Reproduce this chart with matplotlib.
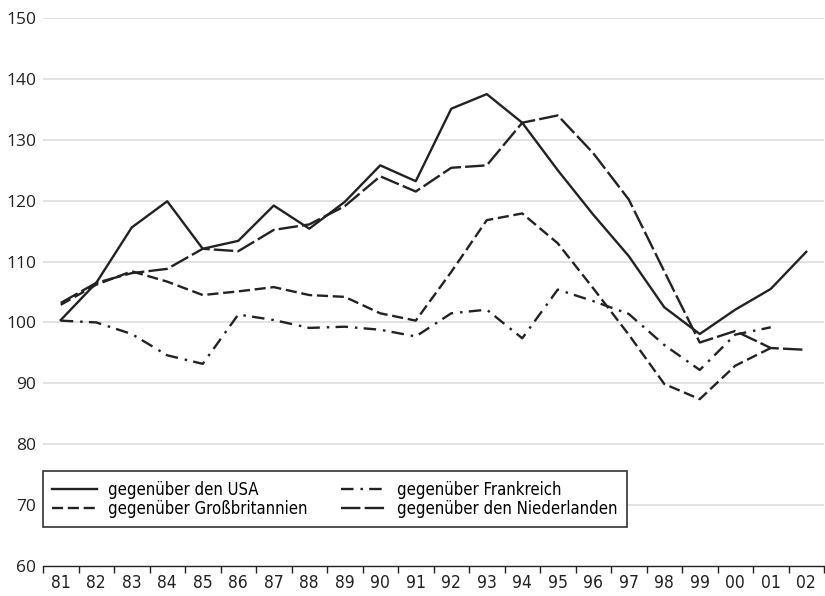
import numpy as np
import matplotlib
matplotlib.use("Agg")
import matplotlib.pyplot as plt
from matplotlib import font_manager

# Jahre 1981-2002
years = ["81", "82", "83", "84", "85", "86", "87", "88", "89", "90", "91",
         "92", "93", "94", "95", "96", "97", "98", "99", "00", "01", "02"]

usa = [100.4, 106.5, 115.6, 119.9, 112.1, 113.4, 119.2, 115.4, 119.8, 125.8, 123.2,
       135.1, 137.5, 132.8, 125.0, 117.7, 110.9, 102.5, 98.1, 102.1, 105.5, 111.6]
frankreich = [100.3, 100.0, 98.1, 94.6, 93.2, 101.3, 100.4, 99.1, 99.3, 98.8, 97.7,
              101.5, 102.1, 97.4, 105.4, 103.5, 101.4, 96.3, 92.2, 98.0, 99.2]
grossbritannien = [102.9, 106.2, 108.4, 106.7, 104.5, 105.1, 105.8, 104.5, 104.2, 101.5, 100.3,
                   108.3, 116.8, 117.9, 113.0, 105.6, 98.0, 89.9, 87.4, 92.9, 95.8]
niederlande = [103.2, 106.5, 108.1, 108.8, 112.1, 111.7, 115.2, 116.1, 119.1, 124.0, 121.5,
               125.4, 125.8, 132.8, 134.0, 127.8, 120.2, 108.4, 96.7, 98.6, 95.8, 95.5]

yticks = [60, 70, 80, 90, 100, 110, 120, 130, 140, 150]

plt.rcParams['lines.scale_dashes'] = False
narrow = font_manager.FontProperties(family='DejaVu Sans', stretch='condensed', size=12.5)
legfont = font_manager.FontProperties(family='DejaVu Sans', stretch='condensed', size=12)

fig = plt.figure(figsize=(8.25, 5.96), dpi=100)
ax = fig.add_axes([43 / 825, 30 / 596, 781 / 825, 548 / 596])

x = np.arange(len(years))
lw = 1.7
ink = '#222222'
ax.plot(x[:len(usa)], usa, color=ink, lw=lw, ls='-',
        label='gegenüber den USA')
ax.plot(x[:len(grossbritannien)], grossbritannien, color=ink, lw=lw,
        ls=(0, (8, 3.4)), label='gegenüber Großbritannien')
ax.plot(x[:len(frankreich)], frankreich, color=ink, lw=lw,
        ls=(0, (9, 5, 1.8, 4.5)), label='gegenüber Frankreich')
ax.plot(x[:len(niederlande)], niederlande, color=ink, lw=lw,
        ls=(0, (14, 3)), label='gegenüber den Niederlanden')

ax.set_xlim(-0.5, len(years) - 0.5)
ax.set_ylim(60, 150)

for v in yticks[1:]:
    ax.axhline(v, color='#dadada', lw=1.1, zorder=0)

ax.set_yticks(yticks)
ax.set_yticklabels([str(v) for v in yticks], fontsize=12.5, family='Open Sans', color=ink)
ax.tick_params(axis='y', length=0, pad=5)

ax.set_xticks(np.arange(len(years) + 1) - 0.5)
ax.set_xticklabels([])
ax.set_xticks(x, minor=True)
ax.set_xticklabels(years, minor=True, fontproperties=narrow, color=ink)
ax.tick_params(axis='x', which='major', direction='out', length=5, width=1, color=ink)
ax.tick_params(axis='x', which='minor', length=0, pad=6)

for s in ['left', 'right', 'top']:
    ax.spines[s].set_visible(False)
ax.spines['bottom'].set_color(ink)
ax.spines['bottom'].set_linewidth(1)

handles, labels = ax.get_legend_handles_labels()
leg = ax.legend(handles, labels,
                ncol=2, loc='lower left', bbox_to_anchor=(0, 0.071),
                frameon=True, fancybox=False, framealpha=1, edgecolor='#333333',
                prop=legfont, handlelength=2.7,
                handletextpad=0.66, columnspacing=2.0, borderpad=0.55,
                labelspacing=0.08, borderaxespad=0)
leg.get_frame().set_linewidth(1.2)

fig.savefig('out.png', dpi=100)
